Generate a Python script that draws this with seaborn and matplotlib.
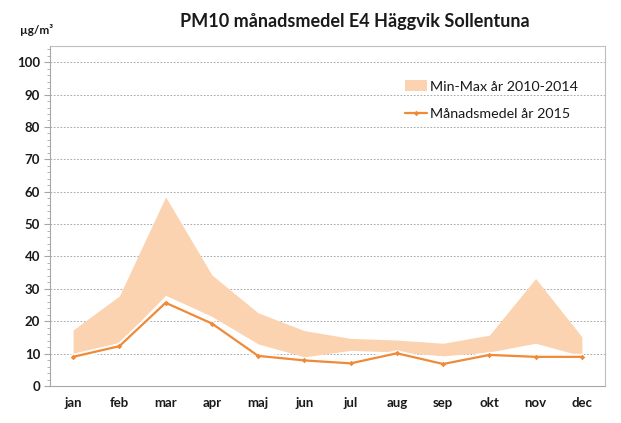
import seaborn as sns
import matplotlib.pyplot as plt
from matplotlib.ticker import MultipleLocator
import numpy as np
import pandas as pd

months = ['jan', 'feb', 'mar', 'apr', 'maj', 'jun', 'jul', 'aug', 'sep', 'okt', 'nov', 'dec']
# min/max of monthly means 2010-2014
band_min = [9.0, 13.5, 28.0, 21.5, 13.0, 9.0, 11.0, 10.5, 9.3, 10.5, 13.2, 9.3]
band_max = [17.3, 27.8, 58.4, 34.3, 22.6, 17.1, 14.7, 14.2, 13.2, 15.7, 33.2, 15.2]
# monthly means 2015
mean_2015 = [9.0, 12.3, 25.7, 19.3, 9.3, 7.9, 7.0, 10.1, 6.8, 9.6, 9.0, 9.0]

df = pd.DataFrame({'month': months, 'idx': np.arange(len(months)),
                   'lo': band_min, 'hi': band_max, 'mean': mean_2015})

sns.set_style('white')
plt.rcParams['font.family'] = ['Lato', 'DejaVu Sans']

band_col = '#FBD3B1'
line_col = '#EE8A38'

fig = plt.figure(figsize=(6.21, 4.23), dpi=100)
ax = fig.add_axes([50 / 621, 37 / 423, 555 / 621, 340 / 423])

ax.fill_between(df['idx'], df['lo'], df['hi'], color=band_col, lw=0,
                label='Min-Max år 2010-2014')
# white glow under the line
sns.lineplot(data=df, x='idx', y='mean', ax=ax, color='white', lw=4.5,
             legend=False, alpha=0.9)
sns.lineplot(data=df, x='idx', y='mean', ax=ax, color=line_col, lw=1.6,
             marker='D', markersize=2.8, markeredgewidth=0,
             label='Månadsmedel år 2015')

ax.set_xlim(-0.5, 11.5)
ax.set_ylim(0, 105)
ax.yaxis.set_major_locator(MultipleLocator(10))
ax.yaxis.set_minor_locator(MultipleLocator(2))
ax.set_yticks(range(0, 101, 10))
ax.set_xticks(df['idx'])
ax.set_xticklabels(months)
ax.set_xticks(np.arange(-0.5, 12, 1), minor=True)
ax.tick_params(axis='x', which='major', length=0, pad=8, labelsize=9.5)
ax.tick_params(axis='x', which='minor', length=4, color='#A6A6A6', width=0.8)
ax.tick_params(axis='y', which='major', length=4, color='#A6A6A6', width=0.8,
               labelsize=9.5, pad=3, left=True)
ax.tick_params(axis='y', which='minor', length=2, color='#A6A6A6', width=0.6, left=True)
for lab in ax.get_xticklabels() + ax.get_yticklabels():
    lab.set_fontweight('bold')
    lab.set_color('#1a1a1a')
ax.set_xlabel('')
ax.set_ylabel('')

for y in range(10, 101, 10):
    ax.axhline(y, color='#9a9a9a', lw=0.6, ls=(0, (2, 2)), zorder=0)

for s in ax.spines.values():
    s.set_color('#BFBFBF')
    s.set_linewidth(0.8)
ax.spines['left'].set_color('#A6A6A6')
ax.spines['bottom'].set_color('#A6A6A6')

leg = ax.legend(loc='upper right', bbox_to_anchor=(0.97, 0.928), frameon=False,
                fontsize=10.3, labelspacing=1.1, handlelength=1.6,
                handletextpad=0.2, borderaxespad=0.3)
for t in leg.get_texts():
    t.set_color('#1a1a1a')

fig.text(355 / 621, 1 - 21 / 423, 'PM10 månadsmedel E4 Häggvik Sollentuna',
         ha='center', va='center', fontsize=13, fontweight='bold', color='#1a1a1a')
fig.text(20 / 621, 1 - 30 / 423, 'µg/m³', ha='left', va='center',
         fontsize=8.5, fontweight='bold', color='#1a1a1a')

fig.savefig('out.png', dpi=100)
